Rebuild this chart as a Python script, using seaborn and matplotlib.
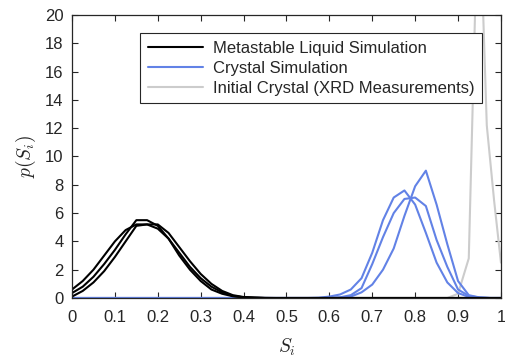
import pandas as pd
import seaborn as sns
import matplotlib.pyplot as plt

# grille commune des S_i (pas de 0.025)
s_grid = [0.0, 0.025, 0.05, 0.075, 0.1, 0.125, 0.15, 0.175, 0.2, 0.225,
          0.25, 0.275, 0.3, 0.325, 0.35, 0.375, 0.4, 0.425, 0.45, 0.475,
          0.5, 0.525, 0.55, 0.575, 0.6, 0.625, 0.65, 0.675, 0.7, 0.725,
          0.75, 0.775, 0.8, 0.825, 0.85, 0.875, 0.9, 0.925, 0.95, 0.975, 1.0]

# liquide metastable (3 simulations)
liquid_1 = [0.6, 1.2, 2.0, 3.0, 4.0, 4.8, 5.2, 5.2, 4.9, 4.2,
            3.2, 2.2, 1.4, 0.8, 0.4, 0.15, 0.05, 0.02, 0, 0,
            0, 0, 0, 0, 0, 0, 0, 0, 0, 0,
            0, 0, 0, 0, 0, 0, 0, 0, 0, 0, 0]
liquid_2 = [0.35, 0.8, 1.5, 2.4, 3.4, 4.5, 5.5, 5.5, 5.1, 4.2,
            3.0, 2.0, 1.2, 0.6, 0.3, 0.12, 0.05, 0.02, 0, 0,
            0, 0, 0, 0, 0, 0, 0, 0, 0, 0,
            0, 0, 0, 0, 0, 0, 0, 0, 0, 0, 0]
liquid_3 = [0.1, 0.5, 1.1, 1.9, 2.9, 4.0, 5.1, 5.2, 5.2, 4.6,
            3.6, 2.6, 1.7, 1.0, 0.5, 0.2, 0.07, 0.03, 0.01, 0,
            0, 0, 0, 0, 0, 0, 0, 0, 0, 0,
            0, 0, 0, 0, 0, 0, 0, 0, 0, 0, 0]

# cristal (3 simulations)
crystal_1 = [0, 0, 0, 0, 0, 0, 0, 0, 0, 0,
             0, 0, 0, 0, 0, 0, 0, 0, 0, 0,
             0, 0, 0, 0.02, 0.1, 0.25, 0.6, 1.4, 3.2, 5.5,
             7.1, 7.6, 6.6, 4.6, 2.5, 1.1, 0.35, 0.08, 0.02, 0, 0]
crystal_2 = [0, 0, 0, 0, 0, 0, 0, 0, 0, 0,
             0, 0, 0, 0, 0, 0, 0, 0, 0, 0,
             0, 0, 0, 0, 0.01, 0.05, 0.2, 0.7, 2.4, 4.3,
             6.0, 7.0, 7.1, 6.5, 4.1, 2.2, 0.6, 0.15, 0.03, 0, 0]
crystal_3 = [0, 0, 0, 0, 0, 0, 0, 0, 0, 0,
             0, 0, 0, 0, 0, 0, 0, 0, 0, 0,
             0, 0, 0, 0, 0, 0.02, 0.1, 0.4, 0.95, 2.0,
             3.5, 5.8, 7.9, 9.0, 6.6, 3.8, 1.2, 0.2, 0.04, 0, 0]

# cristal initial (mesures DRX)
xrd_s = [0.0, 0.875, 0.9, 0.925, 0.948, 0.967, 0.984, 1.0]
xrd_p = [0, 0, 0.3, 2.8, 30, 12.2, 6.9, 2.5]

legend_labels = ['Metastable Liquid Simulation', 'Crystal Simulation',
                 'Initial Crystal (XRD Measurements)']

sns.set_style('ticks')
plt.rcParams['font.family'] = ['Liberation Sans', 'DejaVu Sans']
plt.rcParams['mathtext.fontset'] = 'cm'

fig = plt.figure(figsize=(5.06, 3.58), dpi=100)
ax = fig.add_axes([0.1423, 0.1676, 0.8477, 0.7905])

gray = '#cccccc'
blue = '#6282e6'
lw = 1.5

sns.lineplot(x=xrd_s, y=xrd_p, ax=ax, color=gray, lw=lw, label=legend_labels[2])
for i, curve in enumerate([crystal_1, crystal_2, crystal_3]):
    sns.lineplot(x=s_grid, y=curve, ax=ax, color=blue, lw=lw,
                 label=legend_labels[1] if i == 0 else None)
for i, curve in enumerate([liquid_1, liquid_2, liquid_3]):
    sns.lineplot(x=s_grid, y=curve, ax=ax, color='black', lw=lw,
                 label=legend_labels[0] if i == 0 else None)

ax.set_xlim(0, 1)
ax.set_ylim(0, 20)
ax.set_xticks([0, 0.1, 0.2, 0.3, 0.4, 0.5, 0.6, 0.7, 0.8, 0.9, 1])
ax.set_xticklabels(['0', '0.1', '0.2', '0.3', '0.4', '0.5', '0.6', '0.7', '0.8', '0.9', '1'])
ax.set_yticks(range(0, 21, 2))
ax.tick_params(direction='in', top=True, right=True, length=4, width=0.8,
               labelsize=12, colors='#262626')
ax.tick_params(axis='x', pad=9)
ax.tick_params(axis='y', pad=6)
for sp in ax.spines.values():
    sp.set_visible(True)
    sp.set_color('#262626')
    sp.set_linewidth(0.9)

ax.set_xlabel('$S_i$', fontsize=14, labelpad=8)
ax.set_ylabel('$p(S_i)$', fontsize=14, labelpad=5)

handles, labels = ax.get_legend_handles_labels()
order = [labels.index(l) for l in legend_labels]
leg = ax.legend([handles[k] for k in order], [labels[k] for k in order],
                loc='upper right', bbox_to_anchor=(0.955, 0.936),
                fontsize=12, fancybox=False, framealpha=1, edgecolor='#262626',
                handlelength=3.3, handletextpad=0.6, borderpad=0.45,
                labelspacing=0.3, borderaxespad=0)
leg.get_frame().set_linewidth(0.8)

plt.savefig('out.png', dpi=100)
